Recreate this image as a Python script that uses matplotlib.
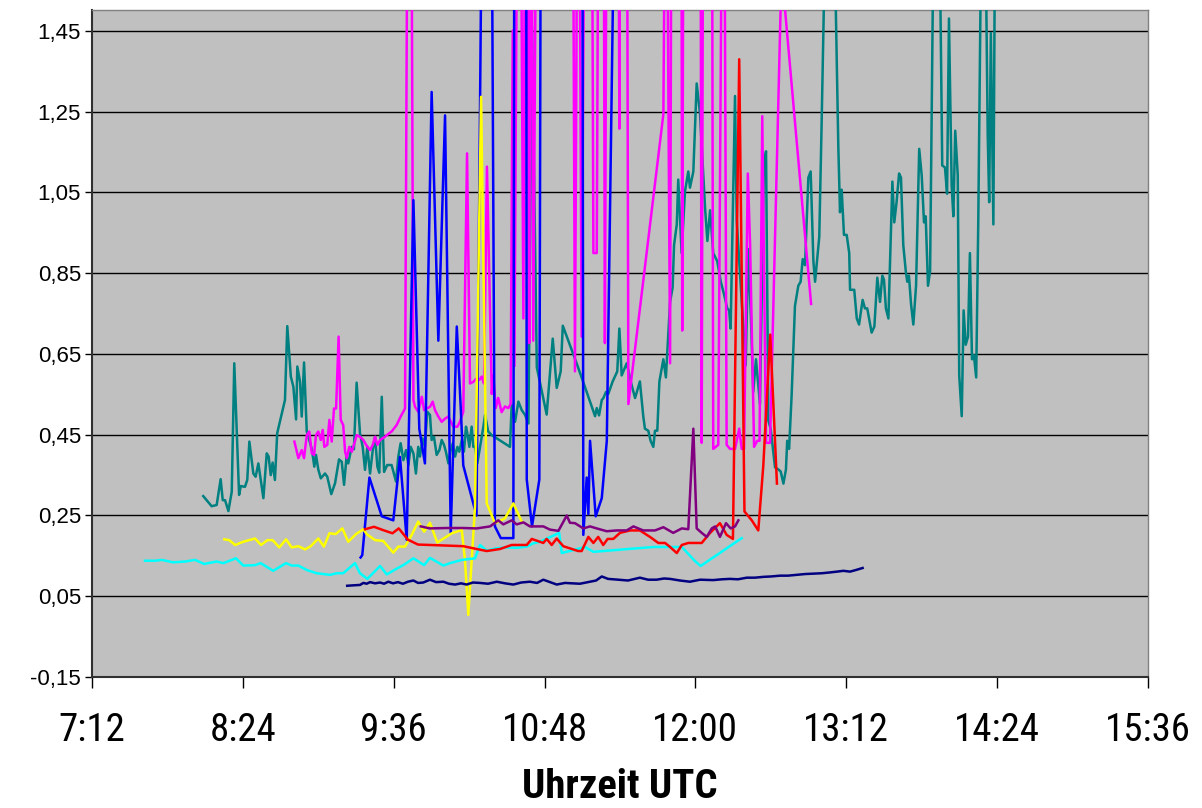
import matplotlib
matplotlib.use("Agg")
import matplotlib.pyplot as plt
from matplotlib import font_manager
from matplotlib.font_manager import FontProperties
from matplotlib.textpath import TextToPath
from matplotlib.ticker import FuncFormatter, FixedLocator

# ---------------- data (time in minutes after midnight UTC, value) ----------------
teal_t = [485.1, 489.1, 491.5, 493.4, 494.4, 495.5, 497.1, 498.7, 499.9, 502.2, 503.0, 505.0, 506.1, 507.1,
          509.0, 510.1, 511.4, 513.8, 515.4, 516.3, 517.3, 518.2, 519.3, 520.4, 524.1, 525.2, 526.9, 528.1,
          529.4, 530.0, 531.3, 532.1, 533.2, 534.5, 535.7, 537.0, 538.1, 538.9, 540.0, 541.2, 543.2, 544.3,
          546.2, 548.0, 549.9, 551.2, 552.3, 553.5, 554.3, 555.9, 557.0, 558.3, 559.9, 561.2, 562.3, 563.4,
          564.7, 566.0, 567.1, 568.2, 569.1, 570.3, 571.4, 572.9, 575.0, 577.1, 578.2, 579.3, 580.6, 581.9,
          583.0, 584.1, 585.4, 586.6, 587.7, 588.5, 589.8, 590.9, 592.0, 593.3, 594.1, 595.2, 596.5, 597.8,
          598.9, 600.0, 600.9, 602.1, 603.2, 604.2, 605.3, 606.4, 607.3, 608.5, 609.5, 610.5, 611.1, 612.1,
          613.2, 614.0, 614.8, 615.9, 617.2, 618.8, 619.6, 621.1, 622.8, 631.5, 632.3, 633.9, 635.5, 637.1,
          638.7, 640.3, 642.0, 644.3, 649.0, 651.9, 653.8, 655.7, 656.7, 663.3, 668.1, 672.1, 672.9, 674.0,
          675.3, 676.1, 677.3, 678.4, 680.5, 682.7, 683.7, 684.8, 687.2, 689.6, 691.2, 693.5, 695.1, 695.9,
          697.5, 698.6, 699.9, 700.7, 701.8, 702.8, 704.7, 705.9, 707.9, 709.1, 709.8, 711.1, 711.8, 713.4,
          715.0, 716.6, 717.4, 719.0, 720.6, 722.2, 724.6, 725.7, 727.0, 728.5, 730.4, 732.1, 733.6, 735.2,
          736.1, 736.8, 738.9, 739.7, 742.1, 744.0, 745.2, 746.5, 747.6, 748.9, 750.8, 752.7, 753.7, 754.8,
          755.9, 758.0, 759.6, 760.7, 762.0, 763.2, 763.8, 764.7, 765.9, 767.5, 769.1, 770.2, 771.2, 772.3,
          773.9, 775.0, 776.3, 777.1, 779.1, 780.2, 784.2, 788.2, 789.0, 789.8, 790.9, 792.2, 793.4, 793.8,
          795.8, 797.0, 798.1, 799.8, 800.9, 802.0, 804.1, 805.4, 806.8, 808.1, 809.2, 810.0, 810.9, 812.1,
          814.0, 814.9, 816.0, 817.2, 818.1, 819.2, 820.4, 821.1, 821.9, 822.9, 824.0, 825.3, 826.8, 828.0,
          829.1, 829.9, 831.0, 832.0, 835.0, 837.8, 839.1, 840.1, 841.0, 842.3, 843.1, 844.0, 845.2, 845.9,
          847.1, 848.0, 849.0, 850.1, 851.0, 852.0, 852.9, 854.0, 855.0, 857.4, 859.5, 860.2, 861.0, 862.2,
          863.3]
teal_v = [0.298, 0.273, 0.276, 0.340, 0.288, 0.288, 0.261, 0.309, 0.627, 0.301, 0.323, 0.321, 0.338, 0.433,
          0.354, 0.346, 0.379, 0.293, 0.404, 0.396, 0.350, 0.381, 0.338, 0.454, 0.536, 0.719, 0.594, 0.569,
          0.488, 0.619, 0.581, 0.495, 0.629, 0.458, 0.437, 0.412, 0.371, 0.400, 0.364, 0.342, 0.354, 0.346,
          0.303, 0.330, 0.389, 0.383, 0.326, 0.396, 0.379, 0.420, 0.414, 0.579, 0.454, 0.420, 0.363, 0.420,
          0.354, 0.412, 0.445, 0.371, 0.356, 0.544, 0.358, 0.375, 0.375, 0.334, 0.396, 0.429, 0.387, 0.412,
          0.375, 0.420, 0.404, 0.354, 0.420, 0.396, 0.441, 0.420, 0.507, 0.499, 0.437, 0.445, 0.400, 0.412,
          0.437, 0.425, 0.408, 0.379, 0.412, 0.429, 0.396, 0.420, 0.408, 0.437, 0.408, 0.470, 0.454, 0.420,
          0.470, 0.420, 0.420, 0.379, 0.420, 0.470, 0.499, 0.458, 0.449, 0.420, 0.524, 0.482, 0.532, 0.511,
          0.499, 0.478, 1.458, 0.617, 0.500, 0.688, 0.566, 0.607, 0.720, 0.627, 0.556, 0.496, 0.516, 0.498,
          0.536, 0.541, 0.556, 0.551, 0.582, 0.607, 0.713, 0.597, 0.627, 0.572, 0.541, 0.582, 0.496, 0.465,
          0.460, 0.435, 0.420, 0.460, 0.460, 0.582, 0.637, 0.592, 0.779, 0.814, 0.920, 0.971, 1.082, 0.900,
          1.052, 1.102, 1.062, 1.102, 1.320, 1.244, 1.011, 0.930, 1.006, 0.900, 0.880, 0.829, 0.799, 0.763,
          0.758, 0.713, 1.289, 0.981, 0.779, 0.622, 0.910, 0.738, 0.556, 0.637, 0.526, 1.122, 1.152, 0.485,
          0.465, 0.369, 0.364, 0.359, 0.329, 0.364, 0.435, 0.415, 0.546, 0.769, 0.819, 0.829, 0.885, 0.870,
          1.087, 1.102, 0.880, 0.829, 0.940, 1.213, 2.300, 1.163, 1.001, 1.057, 0.945, 0.945, 0.900, 0.809,
          0.809, 0.738, 0.723, 0.784, 0.763, 0.763, 0.703, 0.718, 0.839, 0.779, 0.844, 0.834, 0.763, 0.738,
          1.077, 0.976, 1.026, 1.097, 1.087, 0.920, 0.855, 0.829, 0.844, 0.774, 0.723, 0.819, 1.158, 1.092,
          0.976, 0.991, 0.819, 0.855, 2.400, 1.117, 1.112, 1.047, 1.481, 1.067, 0.991, 1.203, 1.092, 0.597,
          0.496, 0.758, 0.673, 0.693, 0.900, 0.637, 0.647, 0.592, 0.981, 2.200, 1.193, 1.026, 1.445, 0.971,
          2.000]

magenta_t = [528.6, 530.5, 532.1, 533.2, 534.5, 535.7, 536.9, 538.0, 538.9, 540.0, 541.2, 542.1, 542.9, 544.3,
             545.3, 546.4, 547.5, 548.5, 549.7, 550.7, 551.9, 552.8, 553.6, 554.8, 556.0, 557.0, 558.3, 559.9,
             561.5, 562.8, 564.7, 566.0, 567.1, 568.2, 569.5, 571.8, 573.9, 575.0, 577.4, 579.3, 581.4, 583.6,
             585.4, 586.2, 587.7, 589.4, 590.5, 591.7, 593.3, 594.6, 595.7, 597.3, 598.9, 600.5, 602.1, 603.3,
             604.4, 606.4, 607.6, 609.2, 611.0, 612.4, 614.0, 615.6, 616.9, 618.0, 619.1, 620.5, 622.8, 623.5,
             624.7, 625.9, 627.5, 629.1, 630.7, 631.8, 632.8, 633.6, 635.8, 637.9, 639.1, 640.7, 641.5, 642.6,
             644.9, 653.0, 661.1, 662.5, 664.1, 665.7, 667.8, 670.2, 671.3, 672.9, 674.2, 675.9, 676.8, 678.0,
             682.8, 683.7, 684.5, 687.1, 688.0, 704.7, 706.0, 707.9, 708.8, 713.1, 713.7, 714.5, 722.2, 723.0,
             723.9, 727.7, 728.5, 730.9, 733.4, 734.9, 736.5, 738.9, 740.9, 742.1, 743.2, 745.0, 746.1, 748.0,
             749.5, 750.6, 751.9, 753.7, 755.6, 761.1, 775.2]
magenta_v = [0.433, 0.392, 0.412, 0.392, 0.449, 0.458, 0.404, 0.400, 0.449, 0.458, 0.437, 0.462, 0.420, 0.425,
             0.487, 0.433, 0.515, 0.515, 0.693, 0.487, 0.474, 0.408, 0.392, 0.420, 0.408, 0.425, 0.449, 0.445,
             0.437, 0.425, 0.412, 0.425, 0.445, 0.425, 0.437, 0.445, 0.454, 0.458, 0.474, 0.495, 0.515, 3.000,
             0.536, 0.519, 0.507, 0.544, 0.511, 0.515, 0.519, 0.532, 0.511, 0.495, 0.482, 0.490, 0.495, 0.482,
             0.470, 0.470, 0.482, 0.507, 1.147, 0.577, 0.581, 0.590, 0.586, 0.594, 0.577, 1.114, 0.551, 0.597,
             0.516, 0.541, 0.506, 0.520, 0.516, 0.526, 1.451, 0.620, 2.600, 0.738, 2.600, 0.677, 2.400, 0.683,
             2.600, 2.800, 2.500, 0.607, 2.400, 0.693, 2.500, 2.500, 0.900, 0.900, 2.500, 2.500, 0.677, 2.500,
             2.600, 1.208, 2.500, 2.400, 0.526, 1.244, 2.200, 0.627, 2.400, 2.400, 0.708, 2.400, 2.400, 0.430,
             2.400, 2.400, 0.415, 0.425, 2.400, 0.425, 0.415, 0.415, 0.465, 0.415, 0.415, 1.097, 0.920, 0.420,
             0.435, 0.435, 1.239, 0.430, 0.430, 1.600, 0.774]

blue_t = [560.2, 561.0, 564.4, 570.3, 575.8, 579.0, 582.2, 585.4, 588.2, 590.9, 594.1, 597.3, 600.5, 603.2,
          606.1, 608.0, 609.2, 615.5, 619.1, 622.2, 624.3, 627.1, 633.1, 633.8, 639.1, 639.5, 642.0, 645.5,
          646.5, 655.4, 665.9, 666.5, 668.1, 668.9, 669.7, 672.4, 675.3, 677.7, 681.1]
blue_v = [0.146, 0.152, 0.344, 0.248, 0.238, 0.395, 0.190, 1.031, 0.465, 0.379, 1.299, 0.683, 1.241, 0.207,
          0.718, 0.516, 0.374, 0.250, 2.400, 2.400, 0.223, 0.194, 0.194, 2.600, 2.600, 0.339, 0.223, 0.339,
          2.500, 2.600, 2.500, 0.202, 0.344, 0.253, 0.435, 0.248, 0.293, 0.435, 1.700]

yellow_t = [495.1, 497.5, 500.3, 504.2, 509.8, 512.7, 515.7, 518.2, 521.4, 524.6, 527.3, 530.5, 533.7, 536.4,
            540.0, 542.7, 545.3, 548.3, 551.5, 554.3, 558.0, 561.5, 563.1, 567.1, 571.0, 575.8, 578.2, 581.4,
            584.6, 587.7, 590.5, 593.3, 596.8, 603.7, 608.5, 610.0, 611.6, 614.8, 617.7, 620.4, 624.3, 629.1,
            633.1, 637.1]
yellow_v = [0.191, 0.189, 0.177, 0.185, 0.193, 0.177, 0.189, 0.189, 0.171, 0.191, 0.171, 0.174, 0.166, 0.174,
            0.193, 0.173, 0.206, 0.204, 0.218, 0.185, 0.204, 0.216, 0.204, 0.189, 0.187, 0.158, 0.173, 0.173,
            0.202, 0.235, 0.210, 0.232, 0.183, 0.206, 0.214, 0.140, 0.004, 0.272, 1.287, 0.280, 0.231, 0.243,
            0.280, 0.235]

red_t = [562.3, 566.6, 571.4, 575.4, 578.4, 582.8, 587.6, 593.3, 609.2, 615.6, 620.4, 626.7, 632.3, 639.5,
         641.9, 647.4, 649.0, 651.4, 653.8, 656.9, 664.0, 665.7, 668.9, 671.3, 673.6, 676.0, 678.1, 680.8,
         684.0, 688.8, 693.5, 698.3, 702.3, 705.5, 707.9, 711.1, 713.5, 716.6, 723.0, 727.0, 731.7, 734.9,
         737.9, 740.9, 743.4, 746.9, 750.0, 752.4, 755.7, 758.9]
red_v = [0.216, 0.222, 0.213, 0.206, 0.218, 0.190, 0.178, 0.177, 0.174, 0.167, 0.162, 0.167, 0.177, 0.177,
         0.192, 0.182, 0.192, 0.177, 0.193, 0.174, 0.162, 0.162, 0.197, 0.182, 0.197, 0.177, 0.192, 0.192,
         0.207, 0.213, 0.213, 0.197, 0.182, 0.182, 0.172, 0.157, 0.177, 0.182, 0.182, 0.207, 0.231, 0.202,
         0.192, 1.380, 0.260, 0.238, 0.213, 0.374, 0.698, 0.329]

purple_t = [588.9, 593.3, 601.3, 609.2, 615.6, 622.0, 625.9, 628.3, 632.3, 634.7, 637.9, 641.0, 647.4, 650.6,
            654.6, 658.6, 660.1, 662.5, 666.5, 669.7, 672.9, 677.7, 682.4, 687.2, 690.4, 695.1, 700.7, 704.7,
            709.4, 713.5, 716.6, 719.0, 720.6, 723.0, 725.4, 727.8, 729.4, 731.7, 734.6, 736.8, 738.9, 740.5]
purple_v = [0.223, 0.218, 0.219, 0.219, 0.218, 0.223, 0.238, 0.228, 0.238, 0.228, 0.233, 0.223, 0.223, 0.215,
            0.212, 0.250, 0.232, 0.231, 0.218, 0.223, 0.218, 0.211, 0.213, 0.213, 0.223, 0.213, 0.213, 0.221,
            0.207, 0.218, 0.216, 0.465, 0.218, 0.207, 0.197, 0.218, 0.223, 0.197, 0.231, 0.218, 0.223, 0.238]

cyan_t = [457.3, 462.1, 465.3, 470.8, 476.4, 481.2, 485.5, 491.5, 494.7, 500.7, 504.2, 509.8, 512.5, 518.5,
          524.6, 527.3, 530.5, 534.5, 539.2, 545.6, 548.8, 551.9, 557.5, 559.9, 563.4, 569.5, 572.7, 576.6,
          580.9, 585.4, 590.5, 593.3, 599.7, 602.9, 608.5, 614.8, 617.2, 620.4, 625.2, 629.9, 634.7, 639.5,
          642.6, 645.8, 655.0, 656.2, 667.3, 671.3, 699.9, 713.5, 719.8, 722.5, 742.1]
cyan_v = [0.138, 0.138, 0.140, 0.134, 0.136, 0.140, 0.130, 0.136, 0.132, 0.144, 0.126, 0.127, 0.132, 0.113,
          0.132, 0.126, 0.126, 0.115, 0.107, 0.103, 0.107, 0.107, 0.132, 0.107, 0.093, 0.125, 0.104, 0.116,
          0.128, 0.144, 0.127, 0.145, 0.126, 0.132, 0.140, 0.144, 0.177, 0.163, 0.169, 0.171, 0.170, 0.173,
          0.181, 0.185, 0.207, 0.157, 0.172, 0.160, 0.172, 0.172, 0.137, 0.125, 0.194]

navy_t = [553.8, 556.6, 559.9, 561.5, 563.1, 564.7, 567.1, 569.5, 571.4, 573.4, 575.7, 578.0, 580.4, 582.8,
          585.4, 587.6, 590.1, 593.3, 596.2, 599.7, 602.4, 605.3, 608.1, 610.8, 613.8, 617.2, 621.0, 625.2,
          629.1, 633.1, 636.8, 641.0, 644.4, 647.4, 650.6, 653.8, 657.8, 661.1, 664.9, 669.7, 672.6, 675.3,
          678.3, 683.2, 687.8, 693.5, 697.4, 701.5, 705.0, 707.9, 712.6, 717.4, 722.2, 728.5, 732.7, 736.5,
          740.3, 744.5, 748.4, 752.4, 756.1, 760.4, 764.2, 768.3, 772.3, 776.3, 780.4, 784.2, 787.6, 790.6,
          793.8, 796.6, 799.8]
navy_v = [0.076, 0.077, 0.078, 0.083, 0.081, 0.085, 0.082, 0.084, 0.081, 0.086, 0.082, 0.085, 0.081, 0.086,
          0.089, 0.083, 0.084, 0.091, 0.085, 0.086, 0.081, 0.079, 0.082, 0.079, 0.084, 0.083, 0.081, 0.086,
          0.082, 0.079, 0.084, 0.086, 0.083, 0.091, 0.085, 0.079, 0.083, 0.082, 0.081, 0.086, 0.089, 0.099,
          0.093, 0.091, 0.089, 0.096, 0.091, 0.091, 0.094, 0.093, 0.089, 0.086, 0.091, 0.090, 0.092, 0.093,
          0.092, 0.096, 0.096, 0.098, 0.099, 0.101, 0.101, 0.103, 0.105, 0.106, 0.107, 0.109, 0.111, 0.113,
          0.111, 0.115, 0.120]

x_ticks = [432, 504, 576, 648, 720, 792, 864, 936]
y_ticks = [-0.15, 0.05, 0.25, 0.45, 0.65, 0.85, 1.05, 1.25, 1.45]
x_title = "Uhrzeit UTC"

# ---------------- fonts: prefer a narrow sans if one is installed ----------------
def _w(f):
    w = f.weight
    if isinstance(w, str):
        w = {"bold": 700, "normal": 400, "regular": 400}.get(w.lower(), 400)
    return int(w)

def pick_narrow(bold):
    pref = ["Liberation Sans Narrow", "Arial Narrow", "Roboto Condensed", "Open Sans Condensed",
            "Noto Sans Condensed", "Noto Sans", "Liberation Sans", "Open Sans", "Roboto", "DejaVu Sans"]
    best = None
    for f in font_manager.fontManager.ttflist:
        narrowish = ("Narrow" in f.name or "Condensed" in f.name or
                     str(f.stretch) in ("condensed", "semi-condensed", "extra-condensed"))
        if not narrowish or f.style != "normal":
            continue
        if (_w(f) >= 600) != bold:
            continue
        rank = pref.index(f.name) if f.name in pref else len(pref)
        if best is None or rank < best[0]:
            best = (rank, f.fname)
    if best is not None:
        return FontProperties(fname=best[1])
    return FontProperties(family=["Liberation Sans", "DejaVu Sans"], weight="bold" if bold else "normal")

ttp = TextToPath()
def fit(prop, text, target_px, max_pt):
    p = prop.copy()
    p.set_size(50)
    w, h, d = ttp.get_text_width_height_descent(text, p, ismath=False)
    size = 50 * (target_px * 72 / 100) / w
    return min(size, max_pt)

tick_fp = pick_narrow(False)
tick_fp.set_size(fit(tick_fp, "10:48", 86, 29))
title_fp = pick_narrow(True)
title_fp.set_size(fit(title_fp, x_title, 196, 30))

# ---------------- figure ----------------
fig = plt.figure(figsize=(12.02, 8.08), dpi=100)
ax = fig.add_axes([92 / 1202, 1 - 677 / 808, (1148 - 92) / 1202, (677 - 10) / 808])
ax.set_facecolor("#C0C0C0")

series = [
    (teal_t, teal_v, "#008080"),
    (magenta_t, magenta_v, "#FF00FF"),
    (blue_t, blue_v, "#0000FF"),
    (yellow_t, yellow_v, "#FFFF00"),
    (cyan_t, cyan_v, "#00FFFF"),
    (red_t, red_v, "#FF0000"),
    (purple_t, purple_v, "#800080"),
    (navy_t, navy_v, "#000080"),
]
for t, v, c in series:
    ax.plot(t, v, color=c, lw=1.8, zorder=3)

ax.set_xlim(432, 936)
ax.set_ylim(-0.15, 1.502)

ax.yaxis.set_major_locator(FixedLocator(y_ticks))
ax.xaxis.set_major_locator(FixedLocator(x_ticks))
ax.yaxis.set_major_formatter(FuncFormatter(lambda v, p: f"{v:.2f}".replace(".", ",")))
ax.xaxis.set_major_formatter(FuncFormatter(lambda m, p: f"{int(round(m)) // 60}:{int(round(m)) % 60:02d}"))

ax.grid(axis="y", color="black", lw=1.0, zorder=1)
ax.set_axisbelow(True)

for s in ("top", "right"):
    ax.spines[s].set_color("#808080")
    ax.spines[s].set_linewidth(1.0)
for s in ("left", "bottom"):
    ax.spines[s].set_color("#303030")
    ax.spines[s].set_linewidth(1.5)

ax.tick_params(axis="y", direction="out", length=5, width=1, pad=3, labelsize=16, colors="black")
ax.tick_params(axis="x", direction="out", length=8, width=1, pad=17, colors="black")
for lab in ax.get_yticklabels():
    lab.set_family(["Liberation Sans", "DejaVu Sans"])
    lab.set_fontsize(16)
for lab in ax.get_xticklabels():
    lab.set_fontproperties(tick_fp)

ax.set_xlabel(x_title, fontproperties=title_fp, va="top")
ax.xaxis.set_label_coords(0.5, -0.136)

fig.savefig("out.png", dpi=100, facecolor="white")
